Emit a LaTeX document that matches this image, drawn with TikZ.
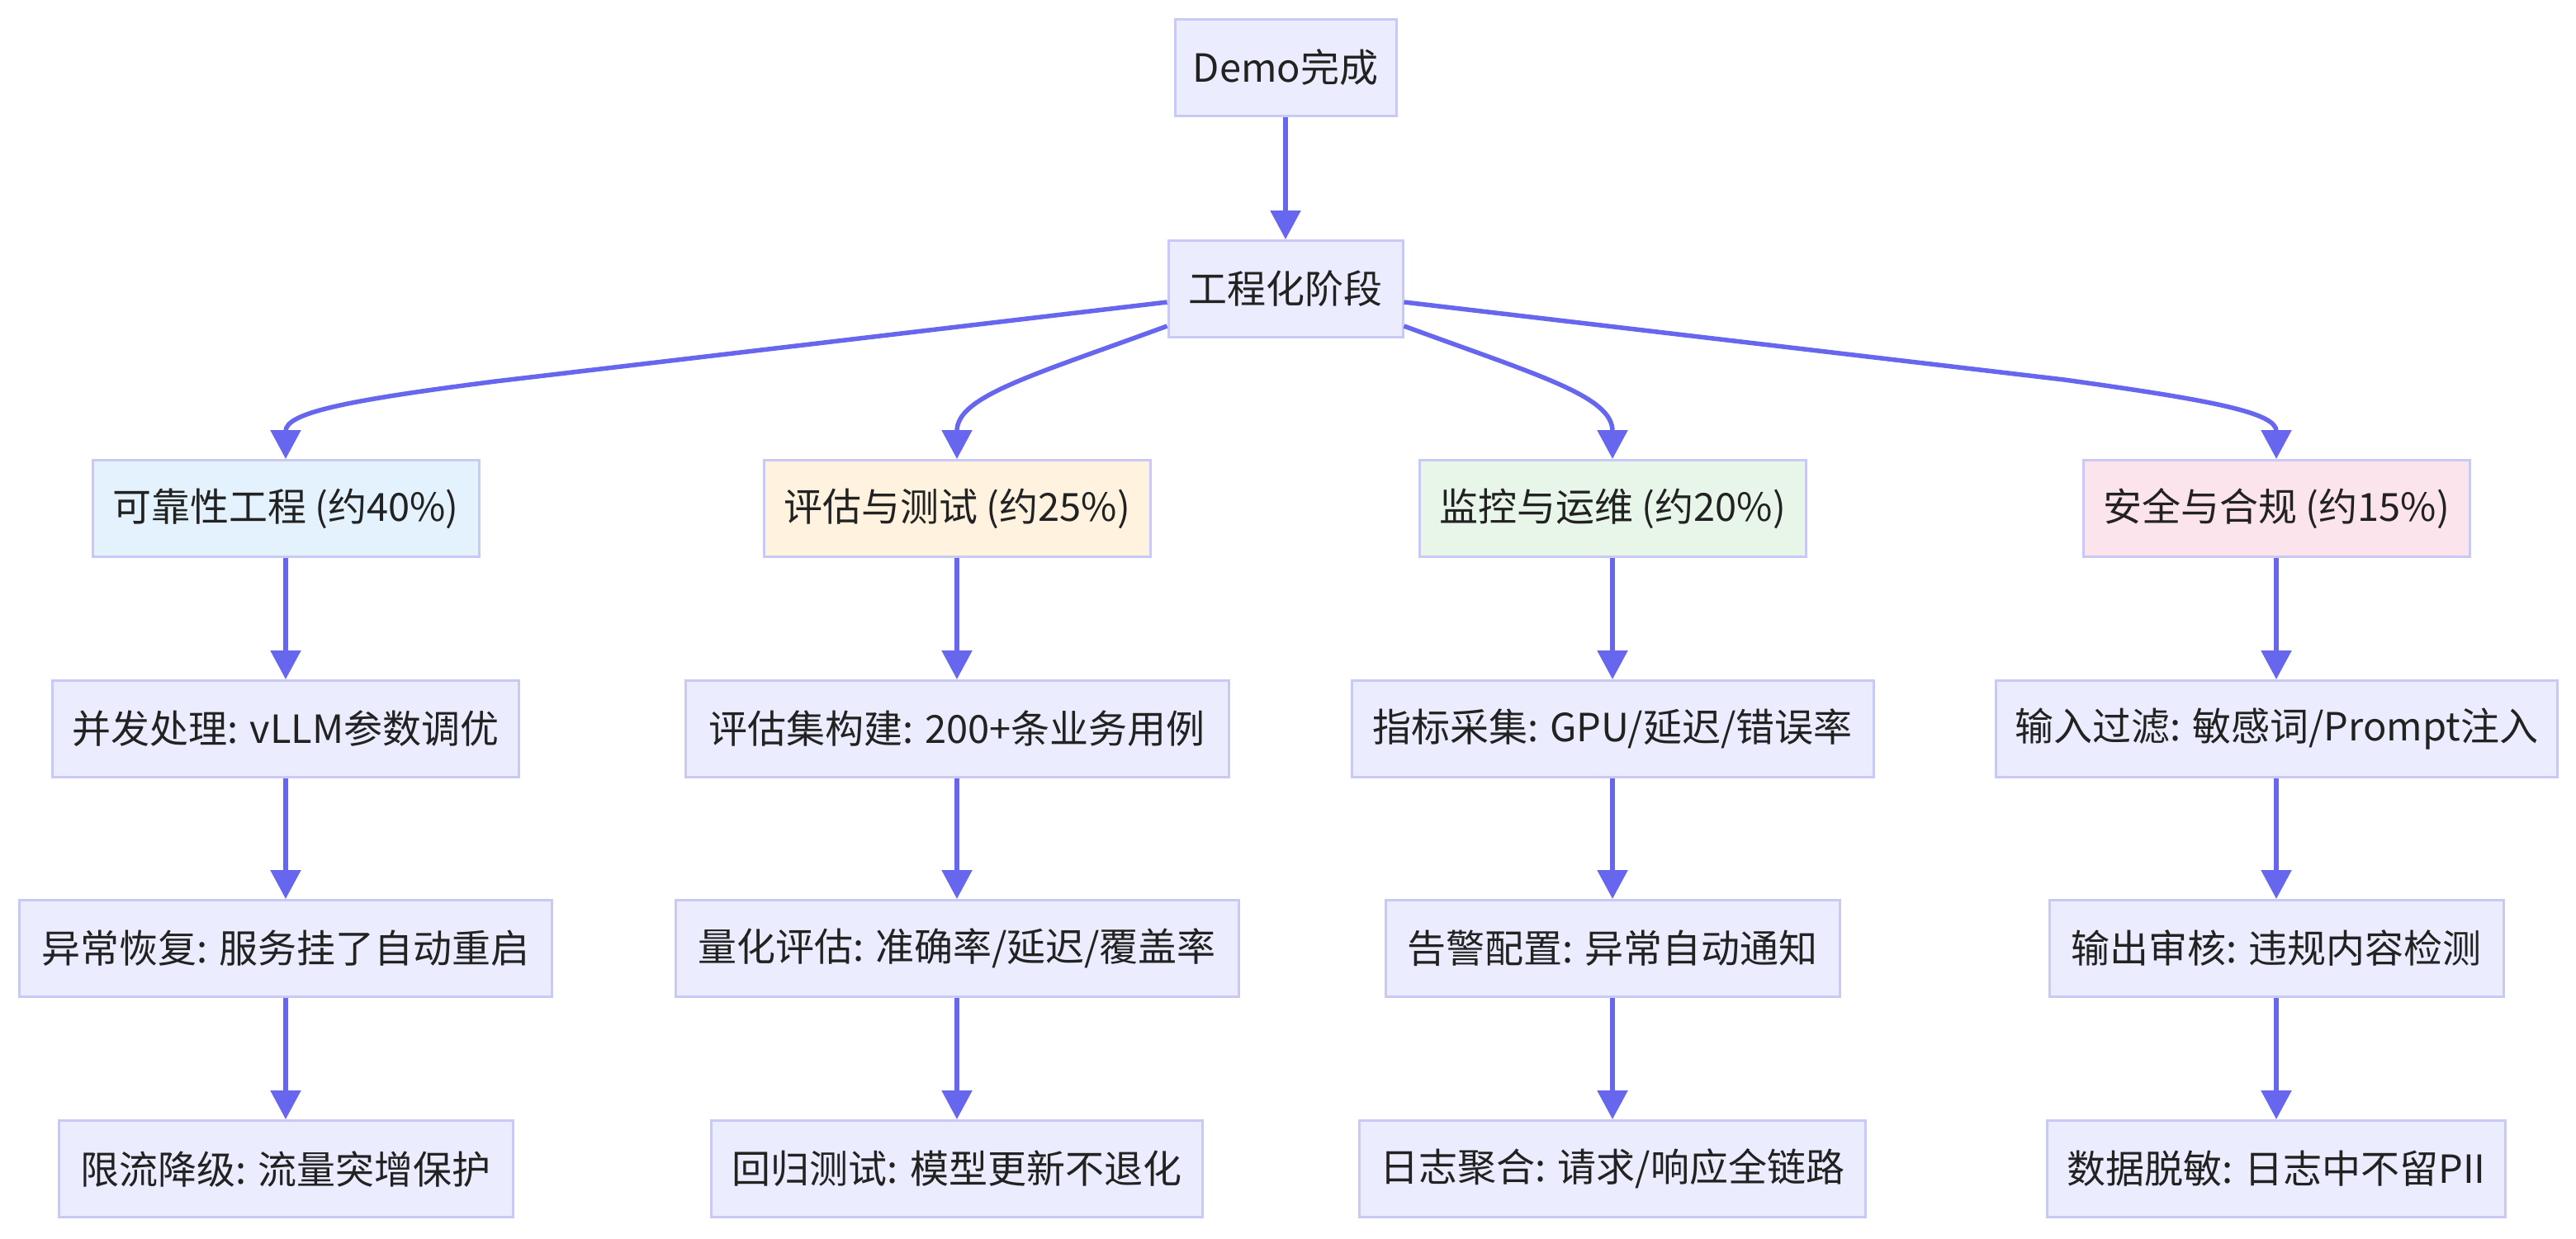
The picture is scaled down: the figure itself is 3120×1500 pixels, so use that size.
\documentclass[tikz,border=0pt]{standalone}
\usepackage{fontspec}
\setmainfont{Noto Sans CJK SC}
\usetikzlibrary{arrows.meta}
\definecolor{edgec}{HTML}{6666EE}
\definecolor{boxline}{HTML}{C9C9F5}
\definecolor{boxfill}{HTML}{ECECFF}
\definecolor{relfill}{HTML}{E3F2FD}
\definecolor{evalfill}{HTML}{FFF3E0}
\definecolor{monfill}{HTML}{E8F5E9}
\definecolor{secfill}{HTML}{FCE4EC}
\definecolor{txt}{HTML}{222222}
\tikzset{
  box/.style={draw=boxline, line width=3pt, fill=boxfill, rectangle, inner sep=0pt,
    minimum height=117pt, text=txt, font=\fontsize{47}{56}\selectfont},
  flow/.style={draw=edgec, line width=5.5pt, -{Triangle[length=35pt,width=36pt]}}
}
\begin{document}
\begin{tikzpicture}[x=1pt,y=-1pt]
\useasboundingbox[fill=white] (0,0) rectangle (3120,1500);
% top
\node[box, minimum width=268pt] (demo) at (1557,82) {Demo完成};
\node[box, minimum width=284pt] (gc) at (1557,350) {工程化阶段};
% row 1
\node[box, fill=relfill, minimum width=468pt] (r1) at (346,616) {可靠性工程 (约40\%)};
\node[box, fill=evalfill, minimum width=468pt] (e1) at (1159,616) {评估与测试 (约25\%)};
\node[box, fill=monfill, minimum width=468pt] (m1) at (1953,616) {监控与运维 (约20\%)};
\node[box, fill=secfill, minimum width=468pt] (s1) at (2757,616) {安全与合规 (约15\%)};
% row 2
\node[box, minimum width=565pt] (r2) at (346,883) {并发处理: vLLM参数调优};
\node[box, minimum width=658pt] (e2) at (1159,883) {评估集构建: 200+条业务用例};
\node[box, minimum width=632pt] (m2) at (1953,883) {指标采集: GPU/延迟/错误率};
\node[box, minimum width=680pt] (s2) at (2757,883) {输入过滤: 敏感词/Prompt注入};
% row 3
\node[box, minimum width=645pt] (r3) at (346,1149) {异常恢复: 服务挂了自动重启};
\node[box, minimum width=682pt] (e3) at (1159,1149) {量化评估: 准确率/延迟/覆盖率};
\node[box, minimum width=550pt] (m3) at (1953,1149) {告警配置: 异常自动通知};
\node[box, minimum width=550pt] (s3) at (2757,1149) {输出审核: 违规内容检测};
% row 4
\node[box, minimum width=550pt] (r4) at (346,1416) {限流降级: 流量突增保护};
\node[box, minimum width=595pt] (e4) at (1159,1416) {回归测试: 模型更新不退化};
\node[box, minimum width=613pt] (m4) at (1953,1416) {日志聚合: 请求/响应全链路};
\node[box, minimum width=555pt] (s4) at (2757,1416) {数据脱敏: 日志中不留PII};
% edges
\draw[flow] (demo.south) -- (gc.north);
\draw[flow] ([yshift=-16pt]gc.west) -- (600,462) .. controls (420,485) and (346,500) .. (r1.north);
\draw[flow] ([yshift=-45pt]gc.west) .. controls (1250,455) and (1159,480) .. (e1.north);
\draw[flow] ([yshift=-45pt]gc.east) .. controls (1864,455) and (1953,480) .. (m1.north);
\draw[flow] ([yshift=-16pt]gc.east) -- (2500,460) .. controls (2680,485) and (2757,500) .. (s1.north);
\foreach \c in {r,e,m,s}{
  \draw[flow] (\c1.south) -- (\c2.north);
  \draw[flow] (\c2.south) -- (\c3.north);
  \draw[flow] (\c3.south) -- (\c4.north);
}
\end{tikzpicture}
\end{document}
